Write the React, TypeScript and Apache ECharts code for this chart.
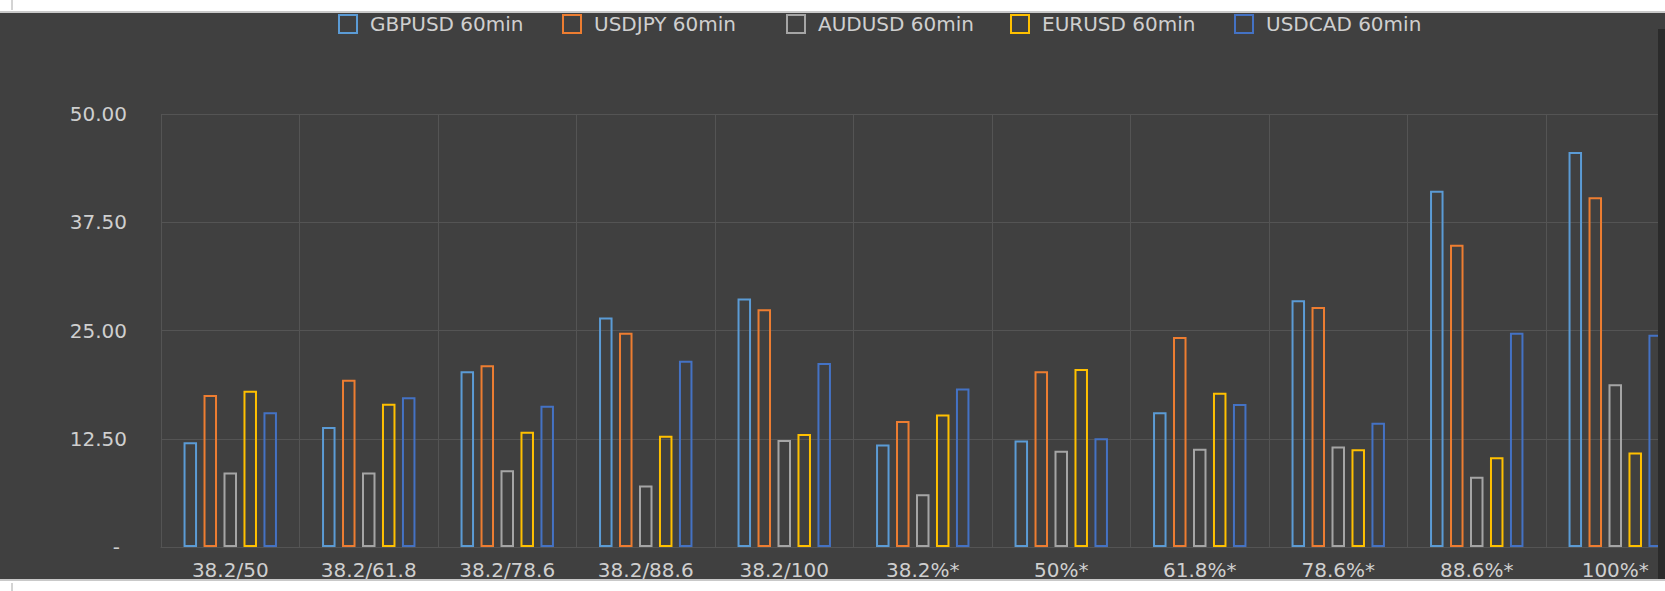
import React, { useEffect, useRef } from "react";
import * as echarts from "echarts";

const categories = ["38.2/50", "38.2/61.8", "38.2/78.6", "38.2/88.6", "38.2/100", "38.2%*", "50%*", "61.8%*", "78.6%*", "88.6%*", "100%*"];
const seriesNames = ["GBPUSD 60min", "USDJPY 60min", "AUDUSD 60min", "EURUSD 60min", "USDCAD 60min"];
const gbpusd = [12.1, 13.85, 20.3, 26.5, 28.7, 11.85, 12.3, 15.55, 28.5, 41.15, 45.6];
const usdjpy = [17.55, 19.3, 21.0, 24.75, 27.45, 14.55, 20.3, 24.25, 27.7, 34.9, 40.4];
const audusd = [8.6, 8.6, 8.85, 7.1, 12.35, 6.1, 11.1, 11.35, 11.6, 8.1, 18.8];
const eurusd = [18.05, 16.55, 13.3, 12.85, 13.05, 15.3, 20.55, 17.8, 11.3, 10.35, 10.9];
const usdcad = [15.55, 17.3, 16.3, 21.5, 21.25, 18.3, 12.55, 16.5, 14.35, 24.75, 24.5];
const yTicks = [0, 12.5, 25, 37.5, 50];

const colors = ["#5B9BD5", "#ED7D31", "#A5A5A5", "#FFC000", "#4472C4"];
const FONT = "DejaVu Sans";
const TEXT = "#cfcfcf";
const GRID = "#545454";
const W = 1685;

export default function App() {
  const ref = useRef<HTMLDivElement>(null);
  useEffect(() => {
    if (!ref.current) return;
    const chart = echarts.init(ref.current, undefined, { renderer: "svg" });
    const values = [gbpusd, usdjpy, audusd, eurusd, usdcad];
    chart.setOption({
      animation: false,
      backgroundColor: "#404040",
      legend: seriesNames.map((name, i) => ({
        left: 333 + 224 * i,
        top: 9,
        itemWidth: 18,
        itemHeight: 18,
        icon: "rect",
        itemStyle: { borderWidth: 2 },
        textStyle: { color: TEXT, fontSize: 20, fontFamily: FONT, padding: [0, 0, 0, 8] },
        data: [name],
      })),
      grid: { left: 161, right: W - 161 - 138.5 * 11, top: 114, bottom: 44, containLabel: false },
      xAxis: {
        type: "category",
        data: categories,
        axisTick: { show: false },
        axisLine: { show: true, lineStyle: { color: GRID, width: 1 } },
        splitLine: { show: true, lineStyle: { color: GRID, width: 1 } },
        axisLabel: { color: TEXT, fontSize: 20, fontFamily: FONT, interval: 0, margin: 13 },
      },
      yAxis: {
        type: "value",
        min: yTicks[0],
        max: yTicks[yTicks.length - 1],
        interval: yTicks[1] - yTicks[0],
        axisLine: { show: false },
        axisTick: { show: false },
        splitLine: { show: true, lineStyle: { color: GRID, width: 1 } },
        axisLabel: {
          color: TEXT,
          fontSize: 20,
          fontFamily: FONT,
          margin: 34,
          formatter: (v: number) => (v === 0 ? "{z|-}" : v.toFixed(2)),
          rich: { z: { color: TEXT, fontSize: 20, fontFamily: FONT, padding: [0, 7, 0, 0] } },
        },
      },
      series: seriesNames.map((name, i) => ({
        name,
        type: "bar",
        data: values[i],
        barWidth: 13.5,
        barGap: "48%",
        itemStyle: { color: "rgba(0,0,0,0)", borderColor: colors[i], borderWidth: 2 },
      })),
      graphic: [
        { type: "rect", z: 100, silent: true, shape: { x: 0, y: 0, width: W, height: 11 }, style: { fill: "#ffffff" } },
        { type: "rect", z: 100, silent: true, shape: { x: 0, y: 11, width: W, height: 2 }, style: { fill: "#c9c9c9" } },
        { type: "rect", z: 100, silent: true, shape: { x: 0, y: 579, width: W, height: 2 }, style: { fill: "#c9c9c9" } },
        { type: "rect", z: 100, silent: true, shape: { x: 0, y: 581, width: W, height: 10 }, style: { fill: "#ffffff" } },
        { type: "rect", z: 100, silent: true, shape: { x: 1658, y: 29, width: W - 1658, height: 550 }, style: { fill: "#2b2b2b" } },
        { type: "line", z: 100, silent: true, shape: { x1: 12, y1: 0, x2: 12, y2: 10 }, style: { stroke: "#a8a8a8", lineWidth: 1 } },
        { type: "line", z: 100, silent: true, shape: { x1: 12, y1: 583, x2: 12, y2: 591 }, style: { stroke: "#a8a8a8", lineWidth: 1 } },
      ],
    });
    return () => chart.dispose();
  }, []);
  return (
    <div style={{ position: "fixed", left: 0, top: 0, width: 1665, height: 591, overflow: "hidden" }}>
      <div ref={ref} style={{ width: W, height: 591 }} />
    </div>
  );
}
